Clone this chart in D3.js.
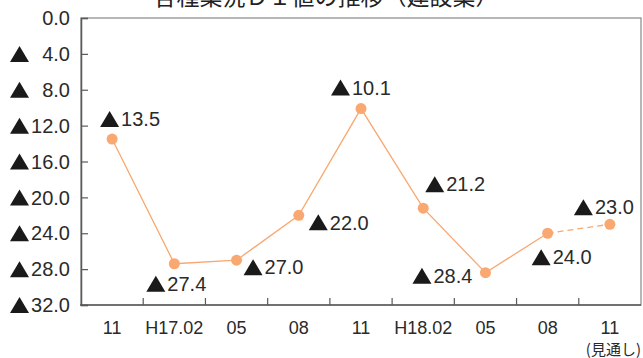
<!DOCTYPE html>
<html>
<head>
<meta charset="utf-8">
<script src="https://cdn.jsdelivr.net/npm/d3@7"></script>
<style>
  body { margin: 0; background: #fff; }
  svg { display: block; font-family: "Liberation Sans", Arial, sans-serif; }
</style>
</head>
<body>
<div id="chart-area"></div>
<script>
// data
var categories = ['11', 'H17.02', '05', '08', '11', 'H18.02', '05', '08', '11'];
var values = [13.5, 27.4, 27.0, 22.0, 10.1, 21.2, 28.4, 24.0, 23.0];
var yTicks = [0, 4, 8, 12, 16, 20, 24, 28, 32];
var titleText = '各種業況ＤＩ値の推移（建設業）';
var forecastNote = '(見通し)';

// label placement relative to each point [dx to start, dy to middle]
var labelOffsets = [[-12, -20], [-28, 20], [7, 7], [10, 7], [-30, -21], [2, -24], [-73, 3], [-16, 24], [-36, -17]];

var def = {
    width: 643,
    height: 358,
    left: 81,
    right: 641,
    top: 18,
    bottom: 305,
    orange: '#f8a870',
    frame: '#5a5a5a'
};

var svg = d3.select('#chart-area').append('svg')
    .attr('width', def.width)
    .attr('height', def.height);

var x = d3.scaleBand()
    .domain(d3.range(categories.length))
    .range([def.left, def.right])
    .padding(0);

var y = d3.scaleLinear()
    .domain([0, 32])
    .range([def.top, def.bottom]);

var cx = function(i) { return x(i) + x.bandwidth() / 2; };

// title (top is cropped in the original)
svg.append('text')
    .attr('x', 326)
    .attr('y', 5)
    .attr('text-anchor', 'middle')
    .attr('font-family', '"Noto Sans CJK JP", sans-serif')
    .attr('font-size', '23px')
    .attr('fill', '#222')
    .text(titleText);

// frame
svg.append('rect')
    .attr('x', def.left)
    .attr('y', def.top)
    .attr('width', def.right - def.left)
    .attr('height', def.bottom - def.top)
    .attr('fill', 'none')
    .attr('stroke', '#888')
    .attr('stroke-width', 1.2);

// y axis (ticks inside)
var yAx = d3.axisRight(y)
    .tickValues(yTicks)
    .tickSize(7)
    .tickFormat('');
var yG = svg.append('g')
    .attr('transform', 'translate(' + def.left + ',0)')
    .call(yAx);
yG.select('.domain').attr('stroke', def.frame).attr('stroke-width', 1.5);
yG.selectAll('.tick line').attr('stroke', def.frame).attr('stroke-width', 1.2);

// y labels
var yLab = svg.append('g').selectAll('g.ylab')
    .data(yTicks)
    .enter().append('g')
    .attr('class', 'ylab');
yLab.append('text')
    .attr('x', 70)
    .attr('y', function(d) { return y(d); })
    .attr('dy', '0.36em')
    .attr('text-anchor', 'end')
    .attr('font-size', '20px')
    .attr('fill', '#2a2a2a')
    .text(function(d) { return d.toFixed(1); });
yLab.filter(function(d) { return d > 0; })
    .append('path')
    .attr('d', function(d) {
        var c = y(d);
        return 'M10,' + (c + 8) + 'L19.5,' + (c - 8) + 'L29,' + (c + 8) + 'Z';
    })
    .attr('fill', '#1a1a1a');

// x axis ticks at band edges, pointing up
var xG = svg.append('g');
xG.selectAll('line')
    .data(d3.range(1, categories.length))
    .enter().append('line')
    .attr('x1', function(i) { return x(i); })
    .attr('x2', function(i) { return x(i); })
    .attr('y1', def.bottom)
    .attr('y2', def.bottom - 7)
    .attr('stroke', def.frame)
    .attr('stroke-width', 1.2);
svg.append('line')
    .attr('x1', def.left - 1).attr('x2', def.right)
    .attr('y1', def.bottom).attr('y2', def.bottom)
    .attr('stroke', def.frame).attr('stroke-width', 1.5);

xG.selectAll('text')
    .data(categories)
    .enter().append('text')
    .attr('x', function(d, i) { return cx(i); })
    .attr('y', 328)
    .attr('dy', '0.36em')
    .attr('text-anchor', 'middle')
    .attr('font-size', '18px')
    .attr('fill', '#2a2a2a')
    .text(function(d) { return d; });

svg.append('text')
    .attr('x', 641)
    .attr('y', 350)
    .attr('dy', '0.36em')
    .attr('text-anchor', 'end')
    .attr('font-family', '"Noto Sans CJK JP", sans-serif')
    .attr('font-size', '15px')
    .attr('fill', '#2a2a2a')
    .text(forecastNote);

// line: solid for actuals, dashed for forecast
var line = d3.line()
    .x(function(d) { return cx(d.i); })
    .y(function(d) { return y(d.v); });
var pts = values.map(function(v, i) { return { v: v, i: i }; });
var n = pts.length;

svg.append('path')
    .datum(pts.slice(0, n - 1))
    .attr('d', line)
    .attr('fill', 'none')
    .attr('stroke', def.orange)
    .attr('stroke-width', 1.3);
svg.append('path')
    .datum(pts.slice(n - 2))
    .attr('d', line)
    .attr('fill', 'none')
    .attr('stroke', def.orange)
    .attr('stroke-width', 1.3)
    .attr('stroke-dasharray', '6,4');

svg.selectAll('circle')
    .data(pts)
    .enter().append('circle')
    .attr('cx', function(d) { return cx(d.i); })
    .attr('cy', function(d) { return y(d.v); })
    .attr('r', 5.5)
    .attr('fill', def.orange);

// value labels
var vl = svg.append('g').selectAll('g.vlab')
    .data(pts)
    .enter().append('g')
    .attr('class', 'vlab')
    .attr('transform', function(d) {
        var o = labelOffsets[d.i];
        return 'translate(' + (cx(d.i) + o[0]) + ',' + (y(d.v) + o[1]) + ')';
    });
vl.append('path')
    .attr('d', 'M0,8L9.5,-8L19,8Z')
    .attr('fill', '#1a1a1a');
vl.append('text')
    .attr('x', 21)
    .attr('y', 0)
    .attr('dy', '0.36em')
    .attr('font-size', '20px')
    .attr('fill', '#2a2a2a')
    .text(function(d) { return d.v.toFixed(1); });
</script>
</body>
</html>
